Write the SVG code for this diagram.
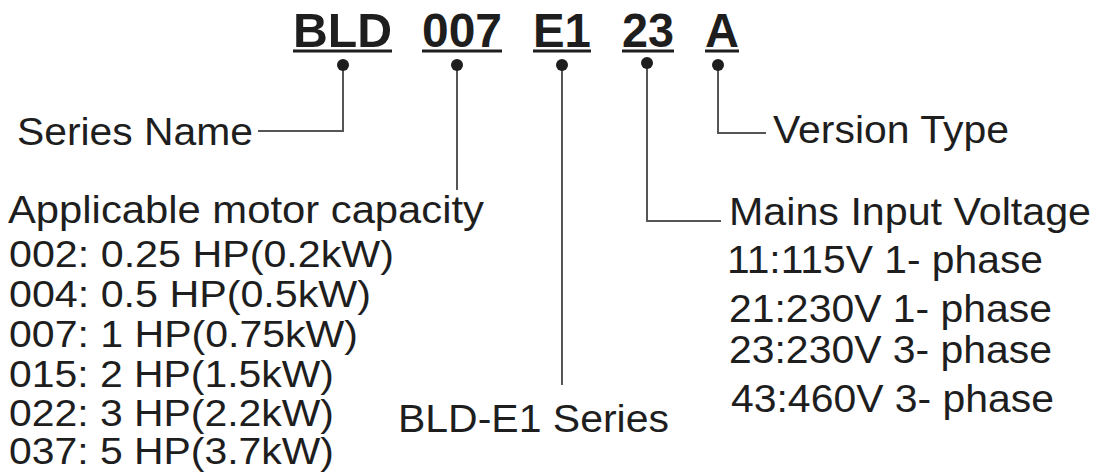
<svg xmlns="http://www.w3.org/2000/svg" width="1096" height="472" viewBox="0 0 1096 472">
<style>
.t{font-family:"Liberation Sans",Arial,sans-serif;font-size:38px;fill:#1e1e1e}
.s{font-size:36px}
.h{font-family:"Liberation Sans",Arial,sans-serif;font-size:48px;font-weight:bold;fill:#1e1e1e}
.u{fill:#1e1e1e}
.c{fill:none;stroke:#555;stroke-width:2}
.d{fill:#1e1e1e}
</style>
<rect width="1096" height="472" fill="#fff"/>
<g id="code">
<text class="h" x="293" y="47" textLength="99" lengthAdjust="spacingAndGlyphs">BLD</text>
<rect class="u" x="293" y="49.5" width="99" height="3"/>
<text class="h" x="422" y="47" textLength="80" lengthAdjust="spacingAndGlyphs">007</text>
<rect class="u" x="422" y="49.5" width="80" height="3"/>
<text class="h" x="533" y="47" textLength="58" lengthAdjust="spacingAndGlyphs">E1</text>
<rect class="u" x="533" y="49.5" width="58" height="3"/>
<text class="h" x="622" y="47" textLength="52" lengthAdjust="spacingAndGlyphs">23</text>
<rect class="u" x="622" y="49.5" width="52" height="3"/>
<text class="h" x="705" y="47" textLength="34" lengthAdjust="spacingAndGlyphs">A</text>
<rect class="u" x="705" y="49.5" width="34" height="3"/>
</g>
<g id="connectors">
<path class="c" d="M343 65 V131 H258"/>
<path class="c" d="M457 65 V190"/>
<path class="c" d="M562 65 V385"/>
<path class="c" d="M647 63 V221 H721"/>
<path class="c" d="M718 65 V133 H766"/>
<circle class="d" cx="343" cy="65" r="6"/>
<circle class="d" cx="457" cy="65" r="6"/>
<circle class="d" cx="562" cy="65" r="6"/>
<circle class="d" cx="647" cy="63" r="6"/>
<circle class="d" cx="718" cy="65" r="6"/>
</g>
<g id="series-name">
<text class="t" x="17" y="145" textLength="236" lengthAdjust="spacingAndGlyphs">Series Name</text>
</g>
<g id="version-type">
<text class="t" x="773" y="143" textLength="236" lengthAdjust="spacingAndGlyphs">Version Type</text>
</g>
<g id="motor-capacity">
<text class="t" x="8" y="223" textLength="476" lengthAdjust="spacingAndGlyphs">Applicable motor capacity</text>
<text class="t s" x="9" y="267" textLength="385" lengthAdjust="spacingAndGlyphs">002: 0.25 HP(0.2kW)</text>
<text class="t s" x="9" y="307" textLength="362" lengthAdjust="spacingAndGlyphs">004: 0.5 HP(0.5kW)</text>
<text class="t s" x="9" y="347" textLength="349" lengthAdjust="spacingAndGlyphs">007: 1 HP(0.75kW)</text>
<text class="t s" x="9" y="387" textLength="325" lengthAdjust="spacingAndGlyphs">015: 2 HP(1.5kW)</text>
<text class="t s" x="9" y="426" textLength="325" lengthAdjust="spacingAndGlyphs">022: 3 HP(2.2kW)</text>
<text class="t s" x="9" y="464" textLength="325" lengthAdjust="spacingAndGlyphs">037: 5 HP(3.7kW)</text>
</g>
<g id="series">
<text class="t" x="398" y="432" textLength="271" lengthAdjust="spacingAndGlyphs">BLD-E1 Series</text>
</g>
<g id="mains-voltage">
<text class="t" x="729" y="225" textLength="362" lengthAdjust="spacingAndGlyphs">Mains Input Voltage</text>
<text class="t" x="727" y="273" textLength="316" lengthAdjust="spacingAndGlyphs">11:115V 1- phase</text>
<text class="t" x="729" y="322" textLength="323" lengthAdjust="spacingAndGlyphs">21:230V 1- phase</text>
<text class="t" x="729" y="363" textLength="323" lengthAdjust="spacingAndGlyphs">23:230V 3- phase</text>
<text class="t" x="731" y="412" textLength="323" lengthAdjust="spacingAndGlyphs">43:460V 3- phase</text>
</g>
</svg>
